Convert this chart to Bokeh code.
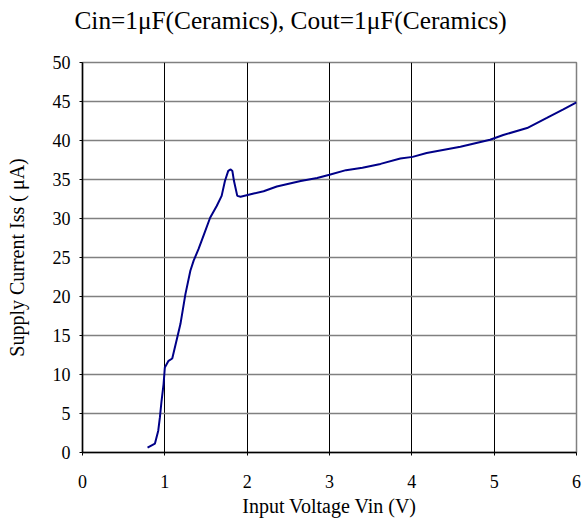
from bokeh.plotting import figure
from bokeh.models import Range1d, FixedTicker, Title
from bokeh.embed import file_html
from bokeh.resources import INLINE

vin = [0.79, 0.88, 0.92, 0.94, 0.96, 0.985, 1.0, 1.045, 1.09, 1.15, 1.19, 1.25, 1.31, 1.35,
       1.41, 1.47, 1.55, 1.63, 1.69, 1.73, 1.77, 1.80, 1.82, 1.84, 1.88, 1.92, 2.08, 2.2,
       2.36, 2.65, 2.85, 3.0, 3.2, 3.4, 3.62, 3.86, 4.01, 4.18, 4.59, 4.95, 5.11, 5.4,
       5.64, 5.84, 6.0]
iss = [0.64, 1.15, 2.8, 4.5, 6.6, 8.8, 10.9, 11.75, 12.05, 14.7, 16.5, 20.3, 23.3, 24.6,
       26.1, 27.8, 30.1, 31.6, 32.9, 34.8, 36.1, 36.3, 36.1, 34.8, 32.9, 32.8, 33.2, 33.5,
       34.1, 34.8, 35.2, 35.6, 36.2, 36.5, 37.0, 37.7, 37.9, 38.4, 39.2, 40.1, 40.7, 41.6,
       42.9, 44.0, 44.9]
x_ticks = [0, 1, 2, 3, 4, 5, 6]
y_ticks = [0, 5, 10, 15, 20, 25, 30, 35, 40, 45, 50]
title_text = "Cin=1\u03bcF(Ceramics), Cout=1\u03bcF(Ceramics)"

FONT = "Liberation Serif"

p = figure(width=583, height=519, output_backend="svg", toolbar_location=None,
           x_range=Range1d(0, 6), y_range=Range1d(0, 50),
           min_border_left=82, min_border_right=7, min_border_top=62, min_border_bottom=67)
p.background_fill_color = "white"
p.border_fill_color = "white"
p.outline_line_color = "#808080"
p.outline_line_width = 1.5

# blank spacer panel next to the frame, pushes the title up
spacer = Title(text=" ", text_font=FONT, text_font_size="22px", standoff=0)
p.add_layout(spacer, "above")

t = Title(text=title_text, align="left", vertical_align="top",
          text_font=FONT, text_font_size="25.3px", text_font_style="normal",
          text_color="black", offset=-8, standoff=0)
p.add_layout(t, "above")

p.line(vin, iss, line_color="#000088", line_width=2)

p.xaxis.ticker = FixedTicker(ticks=x_ticks)
p.yaxis.ticker = FixedTicker(ticks=y_ticks)
for ax in (p.xaxis, p.yaxis):
    ax.axis_line_color = "black"
    ax.axis_line_width = 1.5
    ax.major_tick_line_color = "black"
    ax.major_tick_out = 3
    ax.major_tick_in = 0
    ax.minor_tick_line_color = None
    ax.major_label_text_font = FONT
    ax.major_label_text_font_size = "18px"
    ax.major_label_text_color = "black"
    ax.axis_label_text_font = FONT
    ax.axis_label_text_font_size = "20px"
    ax.axis_label_text_font_style = "normal"
    ax.axis_label_text_color = "black"
p.xaxis.axis_label = "Input Voltage Vin (V)"
p.yaxis.axis_label = "Supply Current Iss ( \u03bcA)"
p.xaxis.major_label_standoff = 19
p.yaxis.major_label_standoff = 9
p.xaxis.axis_label_standoff = 4
p.yaxis.axis_label_standoff = 22

p.xgrid.grid_line_color = "black"
p.xgrid.grid_line_width = 1
p.ygrid.grid_line_color = "#808080"
p.ygrid.grid_line_width = 1.5

open("out.html", "w").write(file_html(p, INLINE))
